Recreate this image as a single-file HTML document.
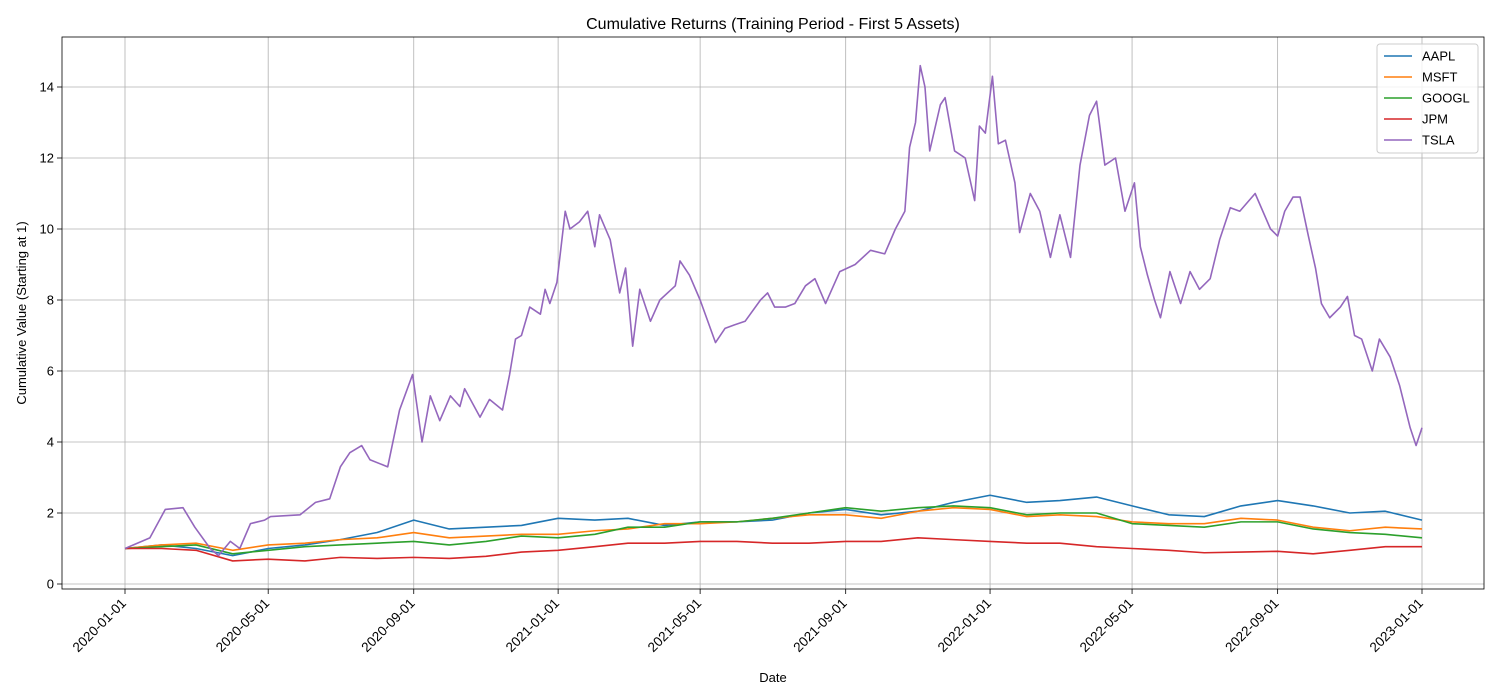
<!DOCTYPE html>
<html><head><meta charset="utf-8"><style>
body{margin:0;background:#fff;font-family:"Liberation Sans","DejaVu Sans",sans-serif}
svg{display:block}
</style></head><body>
<svg id="chart" width="1500" height="700"></svg>
<script>
const monthLabels=["2020-01-01","2020-05-01","2020-09-01","2021-01-01","2021-05-01","2021-09-01","2022-01-01","2022-05-01","2022-09-01","2023-01-01"];
const yTicks=[0,2,4,6,8,10,12,14];
const seriesNames=["AAPL","MSFT","GOOGL","JPM","TSLA"];
const colors=["#1f77b4","#ff7f0e","#2ca02c","#d62728","#9467bd"];
const aapl=[1.0,1.1,1.0,0.8,1.0,1.1,1.25,1.45,1.8,1.55,1.6,1.65,1.85,1.8,1.85,1.65,1.75,1.75,1.8,2.0,2.1,1.95,2.05,2.3,2.5,2.3,2.35,2.45,2.2,1.95,1.9,2.2,2.35,2.2,2.0,2.05,1.8];
const msft=[1.0,1.1,1.15,0.95,1.1,1.15,1.25,1.3,1.45,1.3,1.35,1.4,1.4,1.5,1.55,1.7,1.7,1.75,1.85,1.95,1.95,1.85,2.05,2.15,2.1,1.9,1.95,1.9,1.75,1.7,1.7,1.85,1.8,1.6,1.5,1.6,1.55];
const googl=[1.0,1.05,1.1,0.85,0.95,1.05,1.1,1.15,1.2,1.1,1.2,1.35,1.3,1.4,1.6,1.6,1.75,1.75,1.85,2.0,2.15,2.05,2.15,2.2,2.15,1.95,2.0,2.0,1.7,1.65,1.6,1.75,1.75,1.55,1.45,1.4,1.3];
const jpm=[1.0,1.0,0.95,0.65,0.7,0.65,0.75,0.72,0.75,0.72,0.78,0.9,0.95,1.05,1.15,1.15,1.2,1.2,1.15,1.15,1.2,1.2,1.3,1.25,1.2,1.15,1.15,1.05,1.0,0.95,0.88,0.9,0.92,0.85,0.95,1.05,1.05];
const tslaDays=[0,21,34,49,59,72,79,89,97,106,118,123,148,161,173,182,190,200,207,222,232,243,251,258,266,275,283,287,300,308,319,325,330,335,342,351,355,359,365,372,376,384,391,397,401,410,418,423,429,435,444,452,465,469,477,486,499,507,515,524,537,543,549,558,566,575,583,592,604,617,630,642,651,659,663,668,672,676,680,689,693,701,710,718,722,727,733,738,744,752,756,765,773,782,790,799,807,815,821,828,837,845,853,858,864,870,875,883,892,900,908,917,925,934,942,955,968,974,980,987,993,1000,1006,1011,1018,1027,1033,1039,1045,1054,1060,1069,1077,1086,1091,1096];
const tsla=[1.0,1.3,2.1,2.15,1.6,1.0,0.8,1.2,1.0,1.7,1.8,1.9,1.95,2.3,2.4,3.3,3.7,3.9,3.5,3.3,4.9,5.9,4.0,5.3,4.6,5.3,5.0,5.5,4.7,5.2,4.9,5.9,6.9,7.0,7.8,7.6,8.3,7.9,8.5,10.5,10.0,10.2,10.5,9.5,10.4,9.7,8.2,8.9,6.7,8.3,7.4,8.0,8.4,9.1,8.7,8.0,6.8,7.2,7.3,7.4,8.0,8.2,7.8,7.8,7.9,8.4,8.6,7.9,8.8,9.0,9.4,9.3,10.0,10.5,12.3,13.0,14.6,14.0,12.2,13.5,13.7,12.2,12.0,10.8,12.9,12.7,14.3,12.4,12.5,11.3,9.9,11.0,10.5,9.2,10.4,9.2,11.8,13.2,13.6,11.8,12.0,10.5,11.3,9.5,8.7,8.0,7.5,8.8,7.9,8.8,8.3,8.6,9.7,10.6,10.5,11.0,10.0,9.8,10.5,10.9,10.9,9.8,8.9,7.9,7.5,7.8,8.1,7.0,6.9,6.0,6.9,6.4,5.6,4.4,3.9,4.4];

const NS="http://www.w3.org/2000/svg";
const svg=document.getElementById("chart");
const L=62,R=1484,T=37,B=589;
const t0=Date.UTC(2020,0,1),t1=Date.UTC(2023,0,1);
const xScale=ms=>125+(ms-t0)/(t1-t0)*(1422-125);
const yScale=v=>584-v*(584-87)/14;
const DAY=86400000;
function mk(tag,attrs,parent){const e=document.createElementNS(NS,tag);for(const k in attrs)e.setAttribute(k,attrs[k]);(parent||svg).appendChild(e);return e;}

const title=mk("text",{x:773,y:29,"text-anchor":"middle","font-size":16,fill:"#000"});
title.textContent="Cumulative Returns (Training Period - First 5 Assets)";



monthLabels.forEach(s=>{
  const [y,m,d]=s.split("-").map(Number);
  const x=xScale(Date.UTC(y,m-1,d));
  const g=mk("line",{x1:x,x2:x,y1:T,y2:B,stroke:"#b0b0b0","stroke-width":0.8});
  
  
  mk("line",{x1:x,x2:x,y1:B,y2:B+5,stroke:"#000","stroke-width":0.8});
  const ax=x+2,ay=B+15;
  const t=mk("text",{x:ax,y:ay,"text-anchor":"end","font-size":13.5,fill:"#000",transform:`rotate(-45 ${ax} ${ay})`});
  t.textContent=s;
  
  
});
yTicks.forEach(v=>{
  const y=yScale(v);
  const g=mk("line",{x1:L,x2:R,y1:y,y2:y,stroke:"#b0b0b0","stroke-width":0.8});
  
  
  mk("line",{x1:L-5,x2:L,y1:y,y2:y,stroke:"#000","stroke-width":0.8});
  const t=mk("text",{x:L-8,y:y+4.5,"text-anchor":"end","font-size":13,fill:"#000"});
  t.textContent=v;
  
  
});

function monthlyPts(arr){return arr.map((v,i)=>[xScale(Date.UTC(2020,i,1)),yScale(v)]);}
const allSeries=[monthlyPts(aapl),monthlyPts(msft),monthlyPts(googl),monthlyPts(jpm),tslaDays.map((d,i)=>[xScale(t0+d*DAY),yScale(tsla[i])])];
allSeries.forEach((pts,i)=>{
  const p=mk("polyline",{points:pts.map(p=>p.join(",")).join(" "),fill:"none",stroke:colors[i],"stroke-width":1.6,"stroke-linejoin":"round"});
  
  
});

const frame=mk("rect",{x:L,y:T,width:R-L,height:B-T,fill:"none",stroke:"#000","stroke-width":0.8});



const xl=mk("text",{x:773,y:682,"text-anchor":"middle","font-size":13,fill:"#000"});
xl.textContent="Date";


const yl=mk("text",{x:26,y:313,"text-anchor":"middle","font-size":13,fill:"#000",transform:"rotate(-90 26 313)"});
yl.textContent="Cumulative Value (Starting at 1)";



const lg=mk("g",{});


mk("rect",{x:1377,y:44,width:101,height:109,rx:3,fill:"#fff","fill-opacity":0.8,stroke:"#ccc"},lg);
seriesNames.forEach((n,i)=>{
  const y=56+i*21;
  const e=mk("g",{},lg);
  
  
  mk("line",{x1:1384,x2:1412,y1:y,y2:y,stroke:colors[i],"stroke-width":1.6},e);
  const t=mk("text",{x:1422,y:y+4.5,"font-size":13,fill:"#000"},e);
  t.textContent=n;
});
</script>
</body></html>
